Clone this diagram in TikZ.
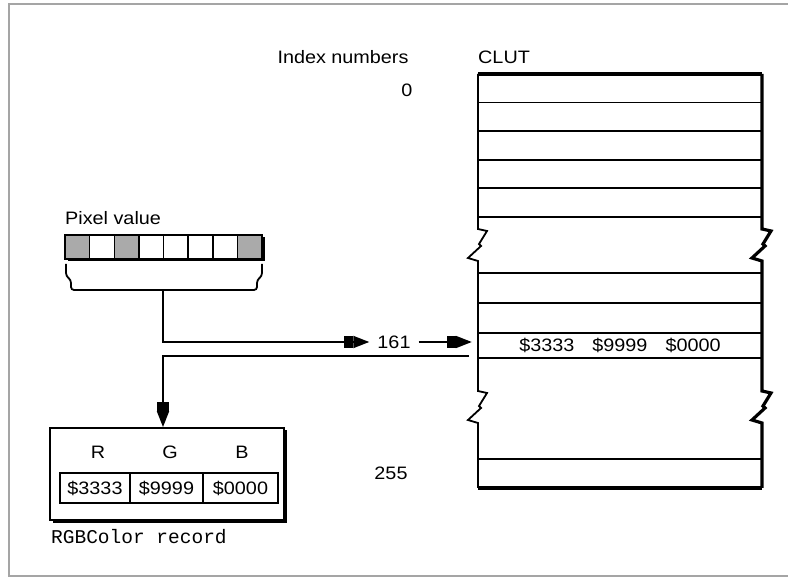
\documentclass[tikz,border=0pt]{standalone}
\usepackage{fontspec}
\setmainfont{Liberation Sans}[FakeStretch=1.1]
\newfontfamily\codefont{Liberation Mono}
\usetikzlibrary{arrows.meta,shadows,calc}
\definecolor{framegray}{RGB}{165,165,165}
\definecolor{cellgray}{RGB}{170,170,170}

\begin{document}
\begin{tikzpicture}[x=1pt, y=-1pt,
        lbl/.style={font=\fontsize{18}{21}\selectfont, inner sep=0pt},
        code/.style={font=\codefont\fontsize{19.5}{22}\selectfont, inner sep=0pt},
        recbox/.style={rectangle, draw, fill=white, line width=1.8pt, inner sep=0pt,
            drop shadow={shadow xshift=2.5pt, shadow yshift=-2.5pt, fill=black, opacity=1}},
        cell/.style={rectangle, draw, line width=1.5pt, minimum width=24.625pt, minimum height=24pt, inner sep=0pt},
        valbox/.style={rectangle, draw, line width=1.6pt, minimum height=30pt, inner sep=0pt, font=\fontsize{18}{21}\selectfont},
        arrow/.style={-{Rectangle[length=9pt,width=12pt]Triangle[length=16pt,width=12pt]}, line width=1.8pt},
        rule/.style={line width=1.8pt}
    ]
        \useasboundingbox (0,0) rectangle (788,577);
        \draw[framegray, line width=2.5pt] (788,4) -- (9,4) -- (9,576) -- (788,576);

        \node[lbl] (idxhead) at (343,57) {Index numbers};
        \node[lbl] (zero) at (407,90) {0};
        \node[lbl, anchor=west] (cluthead) at (478,57) {CLUT};
        \node[lbl] (last) at (391,473) {255};

        \foreach \dx/\w in {0/1.8,284/3.2}
            \draw[line width=\w pt, shift={(\dx,0)}] (478,74) -- (478,229) -- (487,231) -- (479,244) -- (481,246) -- (468,258) -- (478,261)
                -- (478,391) -- (487,393) -- (479,406) -- (481,408) -- (468,420) -- (478,423) -- (478,488);
        \draw[line width=3.2pt] (478,74) -- (762,74);
        \draw[line width=3.6pt] (478,488) -- (762,488);
        \foreach \yy in {102.6,131.2,159.8,188.4,217,273,303,333,358,459}
            \draw[rule] (478,\yy) -- (762,\yy);
        \node[lbl, minimum width=284pt, minimum height=25pt] (row161) at (620,345.5) {\$3333\quad\$9999\quad\$0000};

        \node[lbl, anchor=west] (pixhead) at (65,218) {Pixel value};
        \node[recbox, minimum width=197pt, minimum height=24pt] (pixbar) at (163.5,247) {};
        \foreach \i/\c in {0/cellgray,1/white,2/cellgray,3/white,4/white,5/white,6/white,7/cellgray}
            \node[cell, fill=\c] (bit\i) at (65+24.625*\i+12.3125,247) {};
        \draw[rule, rounded corners=3pt] (66,264) -- (66,276) -- (71,280) -- (71,290) -- (257,290) -- (257,280) -- (262,276) -- (262,264);
        \coordinate (stem) at (163,290);

        \node[lbl, inner xsep=8pt] (idx) at (394,342) {161};

        \node[recbox, minimum width=234pt, minimum height=92pt] (rgb) at (167,474) {};
        \node[lbl] (rlbl) at (98,452) {R};
        \node[lbl] (glbl) at (170,452) {G};
        \node[lbl] (blbl) at (242,452) {B};
        \node[valbox, minimum width=70pt] (red) at (95,488) {\$3333};
        \node[valbox, minimum width=73pt] (green) at (166.5,488) {\$9999};
        \node[valbox, minimum width=75pt] (blue) at (240.5,488) {\$0000};
        \node[code, anchor=west] (cap) at (51,537) {RGBColor record};

        \coordinate (back) at (469,356);
        \draw[arrow] (stem) |- (idx.west);
        \draw[arrow, shorten >=6pt] (idx.east) -- (idx.east -| row161.west);
        \draw[arrow] (back) -| (rgb.north -| stem);
    \end{tikzpicture}
\end{document}
